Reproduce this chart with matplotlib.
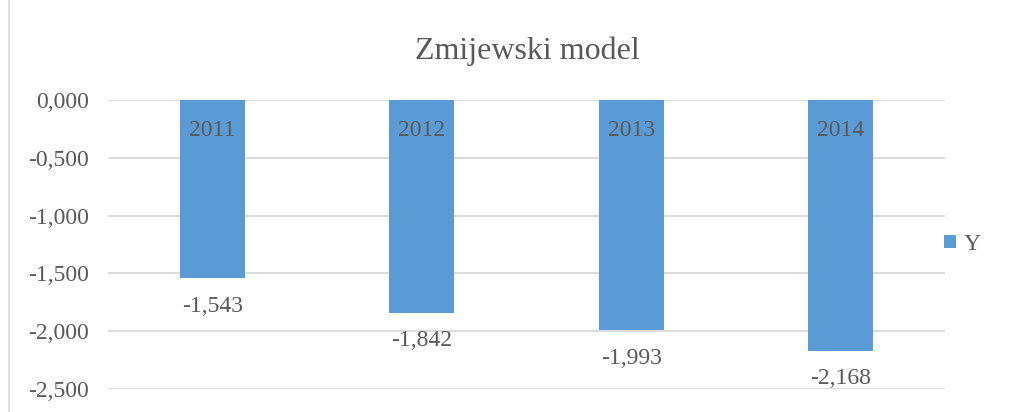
import matplotlib.pyplot as plt
from matplotlib.patches import Rectangle
from matplotlib.ticker import FuncFormatter

years = ['2011', '2012', '2013', '2014']
y_values = [-1.543, -1.842, -1.993, -2.168]
y_ticks = [0.0, -0.5, -1.0, -1.5, -2.0, -2.5]

plt.rcParams['font.family'] = ['Liberation Serif', 'DejaVu Serif']
text_color = '#595959'
bar_color = '#5B9BD5'

fig = plt.figure(figsize=(10.33, 4.12), dpi=100)
ax = fig.add_axes([0.1045, 0.0558, 0.8103, 0.7012])

x = range(len(years))
bars = ax.bar(x, y_values, width=0.31, color=bar_color, zorder=3, label='Y')

ax.set_ylim(-2.5, 0)
ax.set_xlim(-0.5, len(years) - 0.5)
ax.set_yticks(y_ticks)
ax.yaxis.set_major_formatter(FuncFormatter(lambda v, p: f'{v:.3f}'.replace('.', ',')))
ax.tick_params(axis='y', length=0, labelsize=17, labelcolor=text_color, pad=14)
ax.set_xticks([])
ax.grid(axis='y', color='#D9D9D9', linewidth=1.3, zorder=0)
for s in ax.spines.values():
    s.set_visible(False)

# category names inside the bar tops, values under the bar ends
for i, (yr, v) in enumerate(zip(years, y_values)):
    ax.annotate(yr, (i, 0), xytext=(0, -22), textcoords='offset points',
                ha='center', va='center', fontsize=17, color=text_color, zorder=4)
    ax.annotate(f'{v:.3f}'.replace('.', ','), (i, v), xytext=(0, -20),
                textcoords='offset points', ha='center', va='center',
                fontsize=17, color=text_color, zorder=4)

fig.text(0.5105, 0.875, 'Zmijewski model', ha='center', va='center',
         fontsize=23, color=text_color)

ax.legend(loc='center left', bbox_to_anchor=(0.974, 0.5), frameon=False,
          fontsize=17, handlelength=0.5, handleheight=0.5, handletextpad=0.3,
          labelcolor=text_color)

fig.patches.append(Rectangle((9 / 1033, -0.01), 1.1, 1.1, transform=fig.transFigure,
                             fill=False, edgecolor='#D9D9D9', linewidth=1.2))

fig.savefig('out.png', dpi=100)
